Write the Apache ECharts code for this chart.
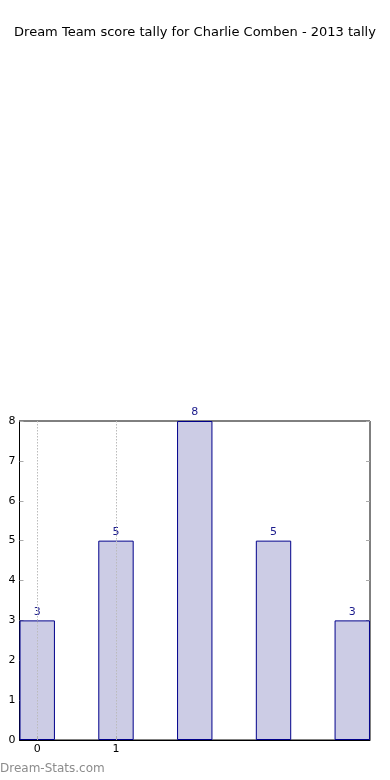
<!DOCTYPE html>
<html>
<head>
<meta charset="utf-8">
<script src="https://cdn.jsdelivr.net/npm/echarts@6/dist/echarts.min.js"></script>
<style>html,body{margin:0;padding:0;background:#fff;}#c{width:390px;height:780px;}</style>
</head>
<body>
<div id="c"></div>
<script>
const titleText = 'Dream Team score tally for Charlie Comben - 2013 tally';
const positions = [0, 1, 2, 3, 4];
const tallies = [3, 5, 8, 5, 3];
const xTickValues = [0, 1];
const watermark = 'Dream-Stats.com';

const chart = echarts.init(document.getElementById('c'), null, {renderer: 'canvas'});
const font = 'DejaVu Sans';
chart.setOption({
  animation: false,
  backgroundColor: '#fff',
  title: {
    text: titleText, left: 'center', top: 21,
    textStyle: {fontFamily: font, fontSize: 13, fontWeight: 'normal', color: '#000'}
  },
  graphic: [{
    type: 'text', left: 0, top: 763,
    style: {text: watermark, font: '12px "DejaVu Sans"', fill: '#8c8c8c'}
  }],
  grid: {left: 19.5, right: 20, top: 421, bottom: 40, show: true, borderColor: '#000', borderWidth: 1, containLabel: false},
  xAxis: {
    type: 'value', min: -0.225, max: 4.225, z: 5,
    axisLine: {show: true, onZero: false, lineStyle: {color: '#000'}},
    axisTick: {show: true, inside: true, length: 4, customValues: xTickValues, lineStyle: {color: '#aaa'}},
    axisLabel: {customValues: xTickValues, color: '#000', fontFamily: font, fontSize: 11, margin: 4},
    splitLine: {show: true, lineStyle: {color: '#bbb', type: [1.5, 1.5], width: 1}}
  },
  yAxis: [{
    type: 'value', min: 0, max: 8, interval: 1,
    axisLine: {show: true, onZero: false, lineStyle: {color: '#000'}},
    axisTick: {show: true, inside: true, length: 4, lineStyle: {color: '#aaa'}},
    axisLabel: {color: '#000', fontFamily: font, fontSize: 11, margin: 4},
    splitLine: {show: false}
  }, {
    type: 'value', min: 0, max: 8, interval: 1, position: 'right',
    axisLine: {show: false, onZero: false},
    axisTick: {show: true, inside: true, length: 4, lineStyle: {color: '#aaa'}},
    axisLabel: {show: false},
    splitLine: {show: false}
  }],
  series: [{
    type: 'bar',
    data: positions.map((p, i) => [p, tallies[i]]),
    barWidth: 35.4,
    itemStyle: {color: '#ccccE5', borderColor: '#00008b', borderWidth: 1},
    label: {show: true, position: 'top', distance: 3, color: '#1a1a8c', fontFamily: font, fontSize: 11}
  }]
});
</script>
</body>
</html>
